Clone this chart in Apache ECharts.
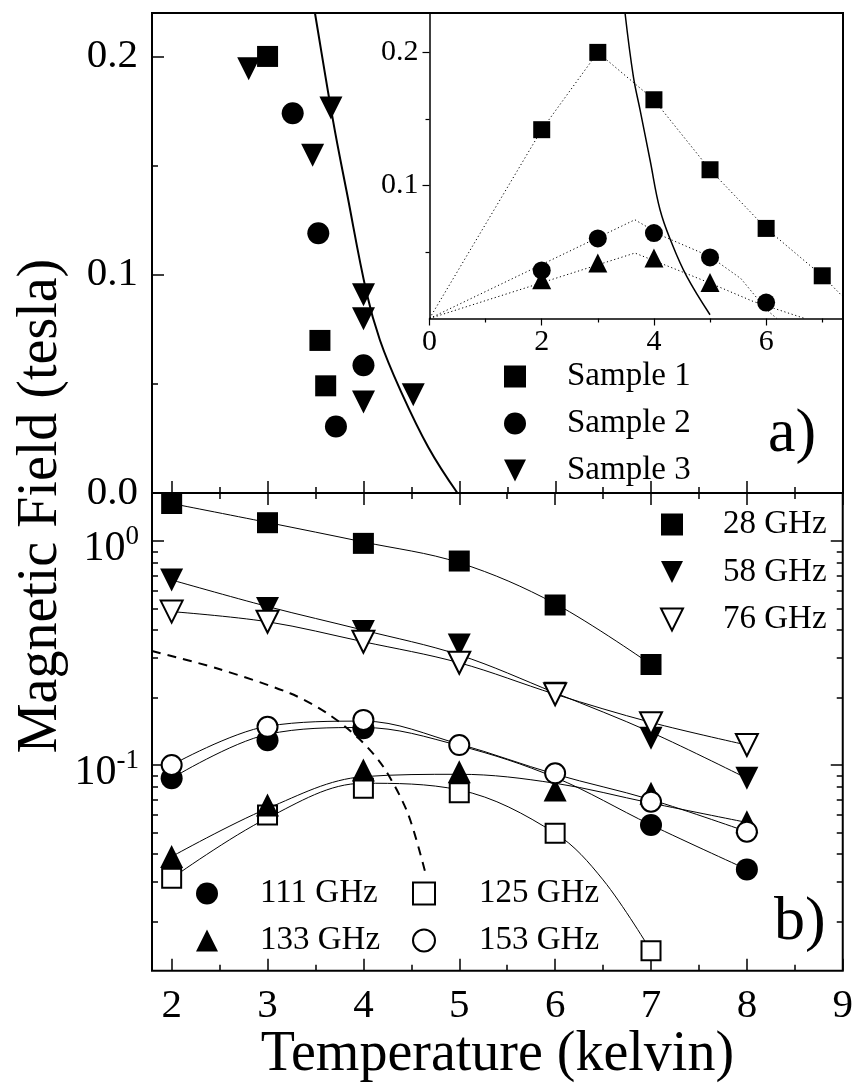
<!DOCTYPE html>
<html>
<head>
<meta charset="utf-8">
<script src="https://cdn.jsdelivr.net/npm/echarts@6/dist/echarts.min.js"></script>
<style>
  html, body { margin: 0; padding: 0; background: #fff; }
  #chart { width: 856px; height: 1086px; }
</style>
</head>
<body>
<div id="chart"></div>
<script>
// ---------------- DATA ----------------
// Panel a) main plot
const sample1X = [3.0, 3.546, 3.606];
const sample1Y = [0.200, 0.0699, 0.0491];
const sample2X = [3.262, 3.529, 4.0, 3.713];
const sample2Y = [0.174, 0.119, 0.0585, 0.0305];
const sample3X = [2.803, 3.661, 3.470, 4.0, 4.0, 4.0, 4.519];
const sample3Y = [0.1944, 0.1764, 0.1547, 0.0908, 0.0798, 0.0417, 0.045];
const curveAX = [3.44, 3.494, 3.685, 3.825, 4.033, 4.172, 4.381, 4.676, 4.98];
const curveAY = [0.234, 0.2199, 0.170, 0.138, 0.0916, 0.070, 0.0475, 0.021, 0.0];

// Panel a) inset
const inset1X = [2, 3, 4, 5, 6, 7];
const inset1Y = [0.1419, 0.200, 0.1644, 0.1118, 0.0677, 0.0321];
const inset2X = [2, 3, 4, 5, 6];
const inset2Y = [0.0361, 0.0602, 0.0642, 0.0459, 0.012];
const inset3X = [2, 3, 4, 5];
const inset3Y = [0.0291, 0.0417, 0.0454, 0.0271];
const guide1X = [0, 2, 3, 4, 5, 6, 7, 7.4];
const guide1Y = [0, 0.1419, 0.200, 0.1644, 0.1118, 0.0677, 0.0321, 0.0150];
const guide2X = [0, 3.66, 4.17, 5.0, 5.55, 6.01, 6.19];
const guide2Y = [0, 0.0742, 0.0617, 0.0466, 0.030, 0.0065, 0];
const guide3X = [0, 3.66, 4.3, 5.0, 5.77, 6.69];
const guide3Y = [0, 0.0492, 0.0385, 0.0266, 0.0128, 0];
const insetCurveX = [3.485, 3.633, 3.752, 3.930, 4.109, 4.317, 4.585, 5.0];
const insetCurveY = [0.2296, 0.182, 0.157, 0.1193, 0.0817, 0.0567, 0.0316, 0.0028];

// Panel b) frequencies
const temps = [2, 3, 4, 5, 6, 7, 8];
const f28  = [1.47, 1.207, 0.976, 0.814, 0.518, 0.281, null];
const f58  = [0.67, 0.50, 0.394, 0.343, 0.209, 0.1316, 0.0872];
const f76  = [0.484, 0.436, 0.355, 0.286, 0.207, 0.1535, 0.1228];
const f111 = [0.0872, 0.129, 0.146, null, null, 0.054, 0.0342];
const f125 = [0.0312, 0.0598, 0.0787, 0.0752, 0.0496, 0.0148, null];
const f133 = [0.039, 0.0663, 0.095, 0.0934, 0.0774, 0.0748, 0.0558];
const f153 = [0.1, 0.148, 0.159, 0.1228, 0.0918, 0.0686, 0.0504];

// Panel b) fitted curves
const fit28  = [1.47, 1.21, 0.99, 0.80, 0.525, 0.281, null];
const fit58  = [0.67, 0.51, 0.40, 0.31, 0.21, 0.14, 0.0872];
const fit76  = [0.484, 0.436, 0.355, 0.286, 0.207, 0.155, 0.1228];
const fit111 = [0.0872, 0.137, 0.147, 0.122, 0.088, 0.054, 0.0342];
const fit125X = [2, 3, 4, 5, 6, 6.5, 7];
const fit125 = [0.0312, 0.058, 0.0829, 0.0774, 0.0496, 0.0307, 0.0148];
const fit133 = [0.039, 0.064, 0.0887, 0.0909, 0.0829, 0.0676, 0.0554];
const fit153 = [0.1, 0.149, 0.157, 0.124, 0.091, 0.070, 0.0504];
const dashX = [1.795, 2.469, 3.234, 3.625, 3.950, 4.206, 4.463, 4.649];
const dashY = [0.3228, 0.2702, 0.2090, 0.1698, 0.1316, 0.0984, 0.0609, 0.0327];

// Tick labels
const xMajor = [2, 3, 4, 5, 6, 7, 8, 9];
const xMinor = [2.5, 3.5, 4.5, 5.5, 6.5, 7.5, 8.5];
const yaMajor = [0, 0.1, 0.2];
const yaMinor = [0.05, 0.15];
const ybMajor = [0.1, 1];
const ybMinor = [0.02, 0.03, 0.04, 0.05, 0.06, 0.07, 0.08, 0.09, 0.2, 0.3, 0.4, 0.5, 0.6, 0.7, 0.8, 0.9];
const insetXMajor = [0, 2, 4, 6];
const insetXMinor = [1, 3, 5, 7];
const insetYMajor = [0.1, 0.2];
const insetYMinor = [0.05, 0.15];

// ---------------- CHART ----------------
const FONT = '"Liberation Serif", "Times New Roman", Times, serif';
const chart = echarts.init(document.getElementById('chart'), null, { renderer: 'canvas' });

const zip = (xs, ys) => xs.map((x, i) => [x, ys[i]]).filter(p => p[1] !== null && p[1] !== undefined);

const X_MIN = 1.795, X_MAX = 9;
const YA_MAX = 0.2199;
const YB_MIN = 0.01207, YB_MAX = 1.638;
const IX_MAX = 7.37, IY_MAX = 0.2296;

const tickLine = { color: '#000', width: 1.5 };
const none = { show: false };
const DOWN_TRI = 'path://M0,0L20,0L10,20Z';

function ax(o) {
  return Object.assign({
    type: 'value', axisLine: { show: false }, splitLine: none,
    axisLabel: { show: false }
  }, o);
}

const xAxis = [
  ax({ gridIndex: 0, min: X_MIN, max: X_MAX, position: 'bottom',
       axisTick: { inside: true, length: 12, customValues: xMajor, lineStyle: tickLine } }),
  ax({ gridIndex: 0, min: X_MIN, max: X_MAX, position: 'bottom',
       axisTick: { inside: true, length: 6, customValues: xMinor, lineStyle: tickLine } }),
  ax({ gridIndex: 1, min: X_MIN, max: X_MAX, position: 'top',
       axisTick: { inside: true, length: 12, customValues: xMajor, lineStyle: tickLine } }),
  ax({ gridIndex: 1, min: X_MIN, max: X_MAX, position: 'top',
       axisTick: { inside: true, length: 6, customValues: xMinor, lineStyle: tickLine } }),
  ax({ gridIndex: 1, min: X_MIN, max: X_MAX, position: 'bottom',
       axisTick: { inside: true, length: 12, customValues: xMajor, lineStyle: tickLine },
       axisLabel: { show: true, customValues: xMajor, fontSize: 41, fontFamily: FONT, color: '#000', margin: 15 },
       name: 'Temperature (kelvin)', nameLocation: 'middle', nameGap: 56,
       nameTextStyle: { fontSize: 56, fontFamily: FONT, color: '#000' } }),
  ax({ gridIndex: 1, min: X_MIN, max: X_MAX, position: 'bottom',
       axisTick: { inside: true, length: 6, customValues: xMinor, lineStyle: tickLine } }),
  ax({ gridIndex: 2, min: 0, max: IX_MAX, position: 'bottom',
       axisLine: { show: true, onZero: false, lineStyle: { color: '#000', width: 1.5 } },
       axisTick: { inside: false, length: 7, customValues: insetXMajor, lineStyle: { color: '#000', width: 1.2 } },
       axisLabel: { show: true, customValues: insetXMajor, fontSize: 30, fontFamily: FONT, color: '#000', margin: 9 } }),
  ax({ gridIndex: 2, min: 0, max: IX_MAX, position: 'bottom',
       axisTick: { inside: false, length: 4, customValues: insetXMinor, lineStyle: { color: '#000', width: 1.2 } } })
];

const yAxis = [
  ax({ gridIndex: 0, min: 0, max: YA_MAX, position: 'left',
       axisTick: { inside: true, length: 12, customValues: yaMajor, lineStyle: tickLine },
       axisLabel: { show: true, customValues: yaMajor, fontSize: 41, fontFamily: FONT, color: '#000', margin: 14,
                    formatter: v => Number(v).toFixed(1) } }),
  ax({ gridIndex: 0, min: 0, max: YA_MAX, position: 'left',
       axisTick: { inside: true, length: 6, customValues: yaMinor, lineStyle: tickLine } }),
  ax({ gridIndex: 1, type: 'log', logBase: 10, min: YB_MIN, max: YB_MAX, position: 'left',
       axisTick: { inside: true, length: 12, customValues: ybMajor, lineStyle: tickLine },
       axisLabel: { show: true, customValues: ybMajor, margin: 13, color: '#000',
         formatter: v => (Math.abs(v - 1) < 1e-9 ? '{b|10}{s|0}' : '{b|10}{s|-1}'),
         rich: {
           b: { fontSize: 42, lineHeight: 42, fontFamily: FONT, color: '#000', padding: [16, 0, 0, 0] },
           s: { fontSize: 27, lineHeight: 27, fontFamily: FONT, color: '#000', verticalAlign: 'top', padding: [3, 0, 0, 0] }
         } } }),
  ax({ gridIndex: 1, type: 'log', logBase: 10, min: YB_MIN, max: YB_MAX, position: 'left',
       axisTick: { inside: true, length: 6, customValues: ybMinor, lineStyle: tickLine } }),
  ax({ gridIndex: 1, type: 'log', logBase: 10, min: YB_MIN, max: YB_MAX, position: 'right',
       axisTick: { inside: true, length: 12, customValues: ybMajor, lineStyle: tickLine } }),
  ax({ gridIndex: 1, type: 'log', logBase: 10, min: YB_MIN, max: YB_MAX, position: 'right',
       axisTick: { inside: true, length: 6, customValues: ybMinor, lineStyle: tickLine } }),
  ax({ gridIndex: 2, min: 0, max: IY_MAX, position: 'left',
       axisLine: { show: true, onZero: false, lineStyle: { color: '#000', width: 1.5 } },
       axisTick: { inside: false, length: 7, customValues: insetYMajor, lineStyle: { color: '#000', width: 1.2 } },
       axisLabel: { show: true, customValues: insetYMajor, fontSize: 30, fontFamily: FONT, color: '#000', margin: 11,
                    formatter: v => Number(v).toFixed(1) } }),
  ax({ gridIndex: 2, min: 0, max: IY_MAX, position: 'left',
       axisTick: { inside: false, length: 4, customValues: insetYMinor, lineStyle: { color: '#000', width: 1.2 } } })
];

const filled = { color: '#000', opacity: 1 };
const open = { color: '#fff', borderColor: '#000', borderWidth: 2, opacity: 1 };

function scatter(name, data, xi, yi, symbol, size, style, rotate) {
  return { type: 'scatter', name, data, xAxisIndex: xi, yAxisIndex: yi, symbol, symbolSize: size,
           symbolRotate: rotate || 0, itemStyle: style, z: 5, emphasis: { disabled: true } };
}
function line(name, data, xi, yi, width, type, smooth) {
  return { type: 'line', name, data, xAxisIndex: xi, yAxisIndex: yi, showSymbol: false, symbol: 'none',
           smooth: smooth, lineStyle: { color: '#000', width, type, opacity: 1 }, z: 3, clip: true,
           emphasis: { disabled: true }, connectNulls: false };
}

const series = [
  line('Fit (a)', zip(curveAX, curveAY), 0, 0, 2, 'solid', 0.4),
  scatter('Sample 1', zip(sample1X, sample1Y), 0, 0, 'rect', 21, filled),
  scatter('Sample 2', zip(sample2X, sample2Y), 0, 0, 'circle', 22, filled),
  scatter('Sample 3', zip(sample3X, sample3Y), 0, 0, 'triangle', 23, filled, 180),
  line('Guide 1', zip(guide1X, guide1Y), 6, 6, 1, [1.2, 2.6], false),
  line('Guide 2', zip(guide2X, guide2Y), 6, 6, 1, [1.2, 2.6], false),
  line('Guide 3', zip(guide3X, guide3Y), 6, 6, 1, [1.2, 2.6], false),
  line('Inset fit', zip(insetCurveX, insetCurveY), 6, 6, 1.5, 'solid', 0.4),
  scatter('Inset sample 1', zip(inset1X, inset1Y), 6, 6, 'rect', 17, filled),
  scatter('Inset sample 2', zip(inset2X, inset2Y), 6, 6, 'circle', 18, filled),
  scatter('Inset sample 3', zip(inset3X, inset3Y), 6, 6, 'triangle', 19, filled),
  line('fit 28', zip(temps, fit28), 4, 2, 1, 'solid', 0.35),
  line('fit 58', zip(temps, fit58), 4, 2, 1, 'solid', 0.35),
  line('fit 76', zip(temps, fit76), 4, 2, 1, 'solid', 0.35),
  line('fit 111', zip(temps, fit111), 4, 2, 1, 'solid', 0.35),
  line('fit 125', zip(fit125X, fit125), 4, 2, 1, 'solid', 0.35),
  line('fit 133', zip(temps, fit133), 4, 2, 1, 'solid', 0.35),
  line('fit 153', zip(temps, fit153), 4, 2, 1, 'solid', 0.35),
  line('dashed', zip(dashX, dashY), 4, 2, 2, [9, 7], 0.3),
  scatter('28 GHz', zip(temps, f28), 4, 2, 'rect', 21, filled),
  scatter('58 GHz', zip(temps, f58), 4, 2, 'triangle', 23, filled, 180),
  scatter('76 GHz', zip(temps, f76), 4, 2, 'triangle', 22, open, 180),
  scatter('111 GHz', zip(temps, f111), 4, 2, 'circle', 22, filled),
  scatter('125 GHz', zip(temps, f125), 4, 2, 'rect', 19, open),
  scatter('133 GHz', zip(temps, f133), 4, 2, 'triangle', 23, filled),
  scatter('153 GHz', zip(temps, f153), 4, 2, 'circle', 20, open)
];

function legend(names, left, top, gap, padLeft) {
  return { data: names, orient: 'vertical', left, top, itemGap: gap, padding: 0,
           itemWidth: 22, itemHeight: 22, selectedMode: false,
           textStyle: { fontSize: 33, fontFamily: FONT, color: '#000', padding: [0, 0, 0, padLeft] },
           inactiveColor: '#000' };
}

const option = {
  animation: false,
  backgroundColor: '#fff',
  textStyle: { fontFamily: FONT, color: '#000' },
  grid: [
    { left: 152, right: 13, top: 13, height: 480, show: true, borderColor: '#000', borderWidth: 2, backgroundColor: 'transparent', z: 1 },
    { left: 152, right: 13, top: 493, height: 477.7, show: true, borderColor: '#000', borderWidth: 2, backgroundColor: 'transparent', z: 1 },
    { left: 429.5, right: 13, top: 13, height: 305.5, show: false }
  ],
  xAxis, yAxis, series,
  legend: [
    legend(['Sample 1', 'Sample 2', { name: 'Sample 3', icon: DOWN_TRI }], 504, 360, 14, 36),
    legend(['28 GHz', { name: '58 GHz', icon: DOWN_TRI }, { name: '76 GHz', icon: DOWN_TRI }], 660, 508, 14.5, 35),
    legend(['111 GHz', '133 GHz'], 196, 877, 14, 37),
    legend(['125 GHz', '153 GHz'], 412, 877, 14, 39)
  ],
  graphic: [
    { type: 'text', x: 768, y: 435, style: { text: 'a)', fontSize: 62, fontFamily: FONT, fill: '#000', textAlign: 'left', textVerticalAlign: 'middle' } },
    { type: 'text', x: 774, y: 923, style: { text: 'b)', fontSize: 62, fontFamily: FONT, fill: '#000', textAlign: 'left', textVerticalAlign: 'middle' } },
    { type: 'text', x: 41, y: 506, rotation: Math.PI / 2,
      style: { text: 'Magnetic Field (tesla)', fontSize: 56, fontFamily: FONT, fill: '#000', textAlign: 'center', textVerticalAlign: 'middle' } }
  ]
};

chart.setOption(option);
</script>
</body>
</html>
